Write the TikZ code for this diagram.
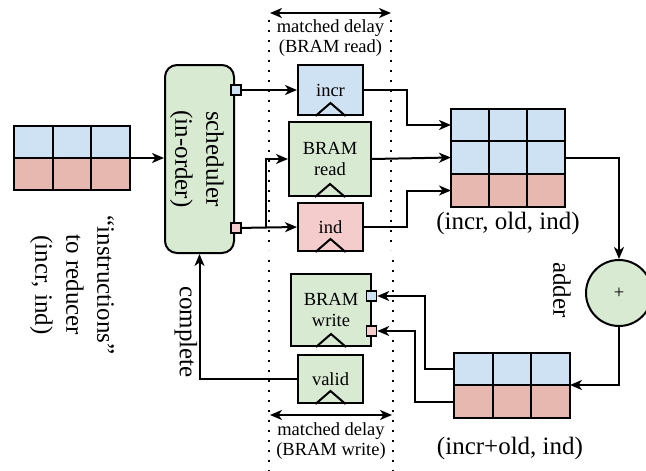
\documentclass[tikz,border=0pt]{standalone}
\usepackage{fontspec}
\setmainfont{Liberation Serif}
\usetikzlibrary{arrows.meta,calc}
\definecolor{regblue}{HTML}{CFE2F3}
\definecolor{regpink}{HTML}{E6B8AF}
\definecolor{boxpink}{HTML}{F4CCCC}
\definecolor{boxgreen}{HTML}{D9EAD3}
\tikzset{
  wire/.style={line width=2pt},
  regrow/.style={draw, line width=2pt, inner sep=0pt, outer sep=0pt},
  pipereg/.style={draw, line width=2pt, inner sep=0pt, align=center},
  port/.style={draw, line width=1.5pt, minimum size=10pt, inner sep=0pt},
  bigtext/.style={font=\fontsize{25}{31}\selectfont, align=center},
  sep/.style={line width=2pt, dash pattern=on 2pt off 8pt},
}
\begin{document}
\begin{tikzpicture}[x=1pt, y=-1pt, >={Stealth[length=12pt,width=10pt,inset=3.5pt]},
    font=\fontsize{18.5}{20.5}\selectfont]
  \useasboundingbox (0,0) rectangle (646,471);
  % input register
  \node[regrow, fill=regblue, minimum width=116pt, minimum height=32pt] (inA) at (72,142) {};
  \node[regrow, fill=regpink, minimum width=116pt, minimum height=32pt] (inB) at (72,174) {};
  % scheduler
  \node[draw, line width=2pt, fill=boxgreen, rounded corners=12pt, minimum width=69pt, minimum height=188pt] (sched) at (199.5,159) {};
  \node[bigtext, rotate=-90] (schedtxt) at (197,159) {scheduler\\(in-order)};
  \node[port, fill=regblue] (sincr) at (236,90) {};
  \node[port, fill=boxpink] (sind) at (236,228) {};
  % pipeline registers
  \node[pipereg, fill=regblue, minimum width=65pt, minimum height=50pt] (incr) at (330.5,90) {incr};
  \node[pipereg, fill=boxgreen, minimum width=82pt, minimum height=74pt] (bramrd) at (330,159) {BRAM\\read};
  \node[pipereg, fill=boxpink, minimum width=65pt, minimum height=48pt] (ind) at (330.5,227) {ind};
  \node[pipereg, fill=boxgreen, minimum width=80pt, minimum height=72pt] (bramwr) at (331,310) {BRAM\\write};
  \node[pipereg, fill=boxgreen, minimum width=65pt, minimum height=48pt] (valid) at (330.5,379) {valid};
  \foreach \n in {incr,bramrd,ind,bramwr,valid}
    \draw[line width=2pt] ($(\n.south)+(-15,0)$) -- ++(15,-13) -- ++(15,13);
  \node[port, fill=regblue] (pwrA) at (371.5,296) {};
  \node[port, fill=boxpink] (pwrB) at (371.5,331) {};
  % (incr, old, ind) and (incr+old, ind)
  \node[regrow, fill=regblue, minimum width=114pt, minimum height=32.5pt] (bigA) at (508,125) {};
  \node[regrow, fill=regblue, minimum width=114pt, minimum height=33pt] (bigB) at (508,157.5) {};
  \node[regrow, fill=regpink, minimum width=114pt, minimum height=33pt] (bigC) at (508,190.5) {};
  \node[regrow, fill=regblue, minimum width=116pt, minimum height=32pt] (outA) at (512,369) {};
  \node[regrow, fill=regpink, minimum width=116pt, minimum height=33pt] (outB) at (512,401.5) {};
  \foreach \r in {inA,inB,bigA,bigB,bigC,outA,outB}
    \foreach \f in {1/3,2/3}
      \draw[line width=2pt] ($(\r.north west)!\f!(\r.north east)$) -- ($(\r.south west)!\f!(\r.south east)$);
  \node[draw, circle, line width=2pt, fill=boxgreen, minimum size=66pt, inner sep=0pt] (adder) at (619,293) {+};
  % labels
  \node[bigtext, rotate=-90] (instr) at (72,285) {“instructions”\\to reducer\\(incr, ind)};
  \node[bigtext, rotate=-90] (compl) at (186,332) {complete};
  \node[bigtext, rotate=-90] (addtxt) at (562,290) {adder};
  \node[bigtext] (oldtxt) at (508,223) {(incr, old, ind)};
  \node[bigtext] (sumtxt) at (510,448) {(incr+old, ind)};
  \node[align=center] (rdtxt) at (330.5,38) {matched delay\\(BRAM read)};
  \node[align=center] (wrtxt) at (331,441) {matched delay\\(BRAM write)};
  % matched delay markers
  \coordinate (tl) at (270,13);  \coordinate (tr) at (391,13);
  \coordinate (bl) at (270,415); \coordinate (br) at (392,415);
  \draw[wire,<->] (tl) -- (tr);
  \draw[wire,<->] (bl) -- (br);
  \draw[sep] (269,20) -- (269,250) (391,20) -- (391,250);
  \draw[sep] (269,260) -- (269,471) (393,260) -- (393,471);
  % connections
  \draw[wire,->] (inA.south east) -- (sched.west |- inA.south east);
  \draw[wire,->] (sincr) -- (incr.west);
  \draw[wire,->] (sind) -- (ind.west);
  \coordinate (split) at (266,228);
  \draw[wire,->] (split) |- (bramrd.west);
  \draw[wire,->] (incr.east) -- ++(43,0) |- (bigA.west);
  \draw[wire,->] (bramrd.east) -- (bigB.west);
  \draw[wire,->] (ind.east) -- ++(43,0) |- (bigC.west);
  \draw[wire,->] (bigB.east) -| (adder.north);
  \draw[wire,->] (adder.south) |- (outA.south east);
  \draw[wire,->] (outA.west) -- ++(-29,0) |- (pwrA.east);
  \draw[wire,->] (outB.west) -- ++(-39,0) |- (pwrB.east);
  \draw[wire,->] (valid.west) -| (sched.south);
\end{tikzpicture}
\end{document}
